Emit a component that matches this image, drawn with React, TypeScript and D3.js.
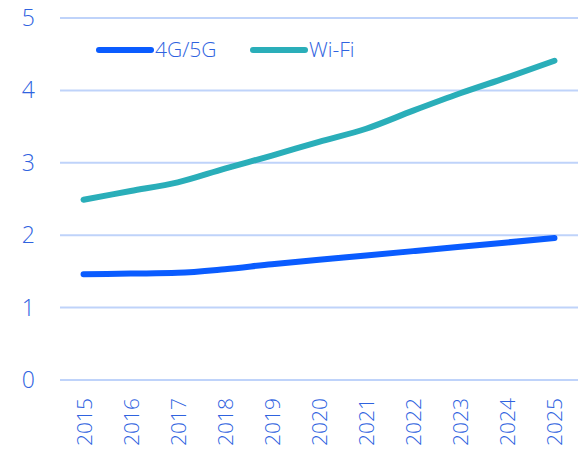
import React, { useEffect, useRef } from "react";
import * as d3 from "d3";

const years = ["2015", "2016", "2017", "2018", "2019", "2020", "2021", "2022", "2023", "2024", "2025"];
const cellular = [1.46, 1.47, 1.48, 1.53, 1.6, 1.66, 1.72, 1.78, 1.84, 1.9, 1.96];
const wifi = [2.49, 2.61, 2.73, 2.92, 3.1, 3.29, 3.47, 3.72, 3.96, 4.18, 4.41];
const yTicks = [0, 1, 2, 3, 4, 5];
const seriesNames = ["4G/5G", "Wi-Fi"];
const seriesColors = ["#0a5cff", "#2aaeb9"];

const App = () => {
  const ref = useRef<SVGSVGElement>(null);

  useEffect(() => {
    draw();
  });

  const draw = () => {
    const width = 578;
    const height = 455;
    const margin = { top: 18, right: 0, bottom: 75, left: 60 };
    const textColor = "#2f63df";
    const font = "'Open Sans', sans-serif";

    const svg = d3.select(ref.current);
    svg.selectAll("*").remove();
    svg.attr("width", width).attr("height", height);

    const x = d3
      .scalePoint()
      .domain(years)
      .range([margin.left, width - margin.right])
      .padding(0.5);

    const y = d3
      .scaleLinear()
      .domain([0, 5])
      .range([height - margin.bottom, margin.top]);

    // gridlines
    svg
      .append("g")
      .selectAll("line")
      .data(yTicks)
      .join("line")
      .attr("x1", margin.left)
      .attr("x2", width - margin.right)
      .attr("y1", (d) => y(d))
      .attr("y2", (d) => y(d))
      .attr("stroke", "#bfd3fa")
      .attr("stroke-width", 2);

    // y labels
    svg
      .append("g")
      .selectAll("text")
      .data(yTicks)
      .join("text")
      .attr("x", 35)
      .attr("y", (d) => y(d))
      .attr("dy", "0.35em")
      .attr("text-anchor", "end")
      .style("font-family", font)
      .style("font-weight", 300)
      .style("font-size", "23px")
      .attr("fill", textColor)
      .text((d) => d);

    // x labels, rotated
    svg
      .append("g")
      .selectAll("text")
      .data(years)
      .join("text")
      .attr("transform", (d) => `translate(${x(d)! + 8}, ${y(0) + 18}) rotate(-90)`)
      .attr("text-anchor", "end")
      .style("font-family", font)
      .style("font-weight", 300)
      .style("font-size", "21px")
      .attr("fill", textColor)
      .text((d) => d);

    const line = d3
      .line<number>()
      .x((_, i) => x(years[i])!)
      .y((d) => y(d))
      .curve(d3.curveMonotoneX);

    [cellular, wifi].forEach((vals, i) => {
      svg
        .append("path")
        .attr("d", line(vals))
        .attr("fill", "none")
        .attr("stroke", seriesColors[i])
        .attr("stroke-width", 6)
        .attr("stroke-linecap", "round")
        .attr("stroke-linejoin", "round");
    });

    // legend
    const legendX = [99, 253];
    const legendY = 50;
    seriesNames.forEach((name, i) => {
      const g = svg.append("g").attr("transform", `translate(${legendX[i]}, ${legendY})`);
      g.append("line")
        .attr("x1", 0)
        .attr("x2", 52)
        .attr("stroke", seriesColors[i])
        .attr("stroke-width", 6)
        .attr("stroke-linecap", "round");
      g.append("text")
        .attr("x", 56)
        .attr("dy", "0.35em")
        .style("font-family", font)
        .style("font-weight", 300)
        .style("font-size", "21px")
        .attr("fill", textColor)
        .text(name);
    });
  };

  return (
    <div style={{ position: "absolute", left: 0, top: 0 }}>
      <svg ref={ref}></svg>
    </div>
  );
};

export default App;
